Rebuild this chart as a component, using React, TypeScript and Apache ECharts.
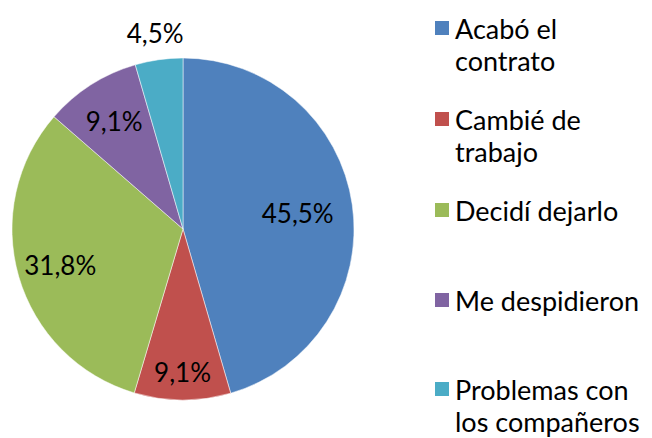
import React, { useEffect, useRef } from "react";
import * as echarts from "echarts";

const categories = [
  "Acabó el contrato",
  "Cambié de trabajo",
  "Decidí dejarlo",
  "Me despidieron",
  "Problemas con los compañeros",
];
const legendLines = [
  ["Acabó el", "contrato"],
  ["Cambié de", "trabajo"],
  ["Decidí dejarlo"],
  ["Me despidieron"],
  ["Problemas con", "los compañeros"],
];
const percents = [45.5, 9.1, 31.8, 9.1, 4.5];
const colors = ["#4F81BD", "#C0504D", "#9BBB59", "#8064A2", "#4BACC6"];

const FONT = "Lato";
const R = 171;
const LINE = 32;
const legendIconCenters = [28, 119, 210, 300, 389];

function fmt(v: number) {
  return v.toFixed(1).replace(".", ",") + "%";
}

function overlay(inner: number, outer: number, shown: number[]) {
  return {
    type: "pie",
    silent: true,
    center: [183, 229],
    radius: [inner * R, outer * R],
    startAngle: 90,
    clockwise: true,
    itemStyle: { color: "rgba(0,0,0,0)", borderWidth: 0 },
    label: {
      show: true,
      position: "inside",
      fontFamily: FONT,
      fontSize: 26,
      color: "#000",
      formatter: (p: any) => (shown.includes(p.dataIndex) ? fmt(p.value) : ""),
    },
    labelLine: { show: false },
    emphasis: { disabled: true },
    data: categories.map((c, i) => ({ name: c, value: percents[i] })),
  };
}

export default function App() {
  const ref = useRef<HTMLDivElement>(null);
  useEffect(() => {
    if (!ref.current) return;
    const chart = echarts.init(ref.current, undefined, { renderer: "svg" });
    const legends = categories.map((c, i) => {
      const lines = legendLines[i];
      const nLines = lines.length > 1 ? 3 : 1;
      return {
        orient: "vertical",
        left: 433,
        top: legendIconCenters[i] - (nLines * LINE) / 2,
        padding: 0,
        itemWidth: 16,
        itemHeight: 16,
        icon: "rect",
        selectedMode: false,
        textStyle: {
          fontFamily: FONT,
          fontSize: 27,
          color: "#000",
          lineHeight: LINE,
        },
        formatter: () => (lines.length > 1 ? [" ", ...lines].join("\n") : lines[0]),
        data: [c],
      };
    });
    chart.setOption({
      animation: false,
      backgroundColor: "#fff",
      color: colors,
      legend: legends,
      series: [
        {
          type: "pie",
          center: [183, 229],
          radius: R,
          startAngle: 90,
          clockwise: true,
          label: { show: false },
          labelLine: { show: false },
          itemStyle: { borderColor: "#fff", borderWidth: 0.5 },
          emphasis: { disabled: true },
          data: categories.map((c, i) => ({ name: c, value: percents[i] })),
        },
        overlay(0.32, 1, [0]),
        overlay(0.46, 1, [2, 3]),
        overlay(0.64, 1, [1]),
        overlay(1, 1.28, [4]),
      ],
    });
    return () => chart.dispose();
  }, []);
  return (
    <div
      ref={ref}
      style={{ position: "fixed", left: 0, top: 0, width: 652, height: 438, background: "#fff" }}
    />
  );
}
